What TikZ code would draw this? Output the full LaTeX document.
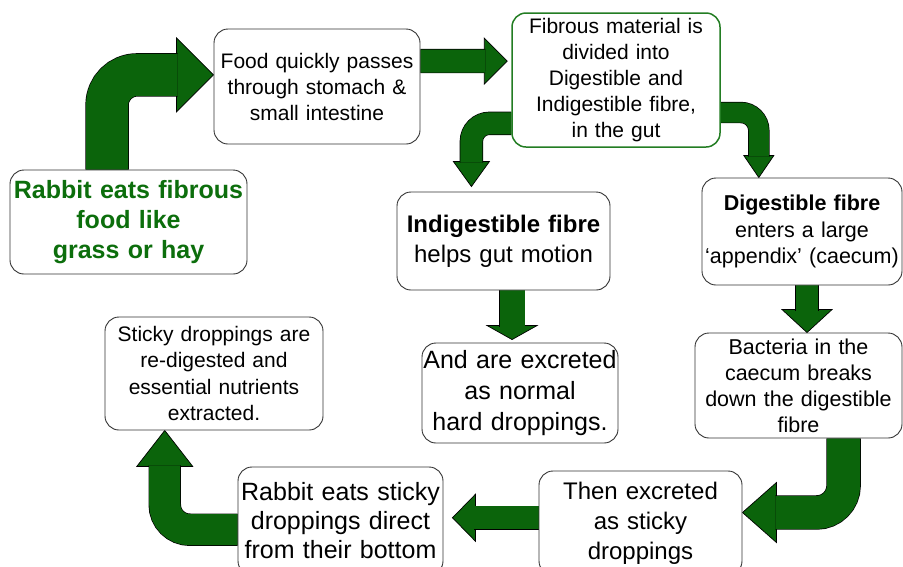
\documentclass[tikz,border=0pt]{standalone}
\usepackage{fontspec}
\setmainfont{Liberation Sans}
\usetikzlibrary{calc,backgrounds}
\definecolor{arrowgreen}{RGB}{11,100,11}
\definecolor{textgreen}{RGB}{12,110,12}
\definecolor{boxgreen}{RGB}{35,125,35}

\begin{document}
\begin{tikzpicture}[x=1pt,y=-1pt]
    \tikzstyle{box}=[rectangle,draw=black!80,fill=white,line width=0.9pt,rounded corners=14pt,align=center,inner sep=0pt]
    \tikzstyle{shaft}=[draw=black,line width=0.7pt,double=arrowgreen]
    \tikzstyle{head}=[draw=black,line width=0.7pt,fill=arrowgreen,line join=miter]
    \useasboundingbox (0,0) rectangle (903,566);
    \clip (0,0) rectangle (903,566);

    % boxes
    \node[box,minimum width=237pt,minimum height=104pt,text width=235pt,text=textgreen,
        font=\fontsize{25}{30}\selectfont\bfseries] (eat) at (128.5,222) {Rabbit eats fibrous\\food like\\grass or hay};
    \node[box,minimum width=206pt,minimum height=115pt,text width=204pt,
        font=\fontsize{21}{26}\selectfont] (food) at (317,86.5) {Food quickly passes\\through stomach \&\\small intestine};
    \node[box,draw=boxgreen,line width=1.5pt,minimum width=208pt,minimum height=134pt,text width=206pt,
        font=\fontsize{21}{26}\selectfont] (fib) at (616,80) {Fibrous material is\\divided into\\Digestible and\\Indigestible fibre,\\in the gut};
    \node[box,minimum width=213pt,minimum height=98pt,text width=211pt,
        font=\fontsize{24}{30}\selectfont] (indig) at (503.5,241) {\textbf{Indigestible fibre}\\helps gut motion};
    \node[box,minimum width=196pt,minimum height=100pt,text width=196pt,
        font=\fontsize{25}{31}\selectfont] (hard) at (520,393) {And are excreted\\as normal\\hard droppings.};
    \node[box,minimum width=200pt,minimum height=107pt,text width=200pt,
        font=\fontsize{21.5}{26.5}\selectfont] (digest) at (802,231.5) {\textbf{Digestible fibre}\\enters a large\\‘appendix’ (caecum)};
    \node[box,minimum width=207pt,minimum height=105pt,text width=205pt,
        font=\fontsize{21.5}{26}\selectfont] (bact) at (798.5,385.5) {Bacteria in the\\caecum breaks\\down the digestible\\fibre};
    \node[box,minimum width=203pt,minimum height=104pt,text width=201pt,
        font=\fontsize{24}{30}\selectfont] (sticky) at (640.5,523) {Then excreted\\as sticky\\droppings};
    \node[box,minimum width=205pt,minimum height=108pt,text width=205pt,
        font=\fontsize{25}{29}\selectfont] (eatsticky) at (340.5,521) {Rabbit eats sticky\\droppings direct\\from their bottom};
    \node[box,minimum width=218pt,minimum height=113pt,text width=216pt,
        font=\fontsize{21}{26.5}\selectfont] (redig) at (214,373.5) {Sticky droppings are\\re-digested and\\essential nutrients\\extracted.};

    % arrow ends
    \coordinate (s1) at ($(eat.north west)!0.41!(eat.north east)$);
    \coordinate (t1) at ($(food.north west)!0.40!(food.south west)$);
    \coordinate (s2) at ($(food.north east)!0.28!(food.south east)$);
    \coordinate (t2) at ($(fib.north west)!0.36!(fib.south west)+(-4,0)$);
    \coordinate (s3) at ($(fib.north west)!0.82!(fib.south west)$);
    \coordinate (t3) at ($(indig.north west)!0.35!(indig.north east)+(0,-5)$);
    \coordinate (s4) at ($(fib.north east)!0.74!(fib.south east)$);
    \coordinate (t4) at ($(digest.north west)!0.285!(digest.north east)$);
    \coordinate (s5) at ($(digest.south west)!0.525!(digest.south east)$);
    \coordinate (t5) at ($(s5 |- bact.north)$);
    \coordinate (s6) at ($(bact.south west)!0.717!(bact.south east)$);
    \coordinate (t6) at ($(sticky.north east)!0.40!(sticky.south east)$);
    \coordinate (s7) at ($(sticky.north west)!0.45!(sticky.south west)$);
    \coordinate (t7) at ($(s7 -| eatsticky.east)+(9,0)$);
    \coordinate (s8) at ($(eatsticky.north west)!0.58!(eatsticky.south west)$);
    \coordinate (t8) at ($(redig.south west)!0.275!(redig.south east)$);
    \coordinate (s9) at ($(indig.south west)!0.54!(indig.south east)$);
    \coordinate (t9) at ($(s9 |- hard.north)+(0,-3)$);

    \begin{scope}[on background layer]
        % heads
        \foreach \t/\a/\l/\h in {t1/0/37/37,t2/0/23/23,t3/-90/25/18,t4/-90/22/15,
                t5/-90/23/25,t6/180/34/30,t7/180/23/23.5,t8/90/36/28,t9/-90/14/25}
            \draw[head,rotate=\a] (\t) -- ++(-\l,-\h) -- ++(0,2*\h) -- cycle;

        % shafts
        \draw[shaft,double distance=42pt,rounded corners=30pt] (s1) |- ($(t1)+(-36,0)$);
        \draw[shaft,double distance=23pt] (s2) -- ($(t2)+(-22,0)$);
        \draw[shaft,double distance=22pt,rounded corners=18pt] (s3) -| ($(t3)+(0,-24)$);
        \draw[shaft,double distance=20pt,rounded corners=18pt] (s4) -| ($(t4)+(0,-21)$);
        \draw[shaft,double distance=22pt] (s5) -- ($(t5)+(0,-22)$);
        \draw[shaft,double distance=33pt,rounded corners=27pt] (s6) |- ($(t6)+(33,0)$);
        \draw[shaft,double distance=23pt] (s7) -- ($(t7)+(22,0)$);
        \draw[shaft,double distance=31pt,rounded corners=25pt] (s8) -| ($(t8)+(0,35)$);
        \draw[shaft,double distance=25pt] (s9) -- ($(t9)+(0,-13)$);
    \end{scope}
\end{tikzpicture}
\end{document}
